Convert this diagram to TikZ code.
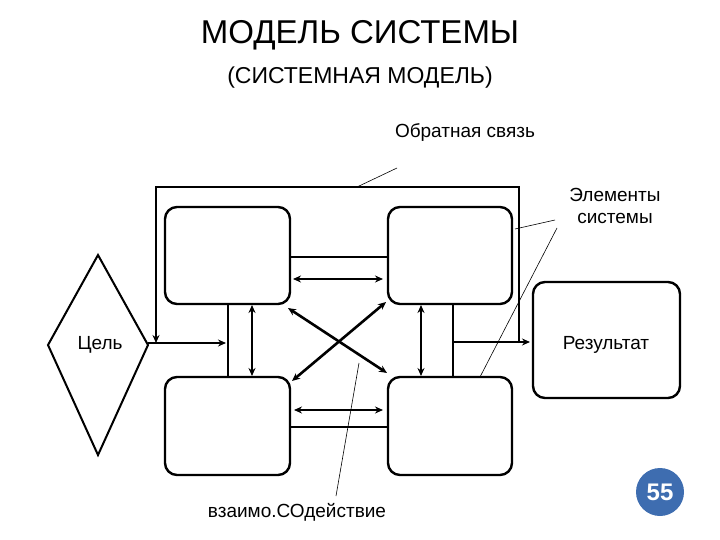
\documentclass[tikz,border=0pt]{standalone}
\usepackage{fontspec}
\setmainfont{Liberation Sans}
\usetikzlibrary{arrows.meta}
\begin{document}
\begin{tikzpicture}[x=1pt,y=-1pt,
  elem/.style={draw,line width=2.4pt,rounded corners=12pt},
  conn/.style={line width=2pt},
  arr/.style={line width=2.6pt,-{Stealth[length=8pt,width=7pt]}},
  darr/.style={line width=2.6pt,{Stealth[length=8pt,width=7pt]}-{Stealth[length=8pt,width=7pt]}},
  ptr/.style={line width=0.6pt},
  lbl/.style={font=\fontsize{19}{22}\selectfont}]
\useasboundingbox (0,0) rectangle (720,540);
\node[font=\fontsize{33}{36}\selectfont] (t1) at (360,35) {МОДЕЛЬ СИСТЕМЫ};
\node[font=\fontsize{23}{26}\selectfont] (t2) at (360,78) {(СИСТЕМНАЯ МОДЕЛЬ)};
% elements
\draw[elem] (165,207) rectangle (290,304);
\draw[elem] (388,207) rectangle (512,304);
\draw[elem] (165,377) rectangle (290,475);
\draw[elem] (388,377) rectangle (512,475);
\draw[elem] (533,282) rectangle (680,398);
\node[lbl] (res) at (606,345) {Результат};
% goal diamond
\draw[line width=2pt] (98,255) -- (148,345) -- (98,455) -- (48,345) -- cycle;
\node[lbl] (goal) at (100,345) {Цель};
% connectors
\draw[conn] (290,257) -- (388,257);
\draw[conn] (290,427) -- (388,427);
\draw[conn] (228,304) -- (228,377);
\draw[conn] (453,304) -- (453,377);
\draw[arr] (148,343) -- (226,343);
\draw[arr] (453,342) -- (530,342);
\draw[arr] (519,343) -- (519,187) -- (156,187) -- (156,343);
\draw[darr] (293,279) -- (383,279);
\draw[darr] (294,410) -- (383,410);
\draw[darr] (252,305) -- (252,376);
\draw[darr] (421,305) -- (421,376);
\draw[darr] (288,308) -- (387,373);
\draw[darr] (386,302) -- (292,381);
% pointer labels
\node[lbl] (fb) at (465,133) {Обратная связь};
\node[lbl,align=center] (el) at (615,206) {Элементы\\системы};
\node[lbl] (vz) at (297,512) {взаимо.СОдействие};
\draw[ptr] (397,168) -- (357,187);
\draw[ptr] (555,220) -- (515,229);
\draw[ptr] (557,228) -- (480,377);
\draw[ptr] (336,496) -- (359,363);
% badge
\fill[fill={rgb,255:red,62;green,109;blue,176}] (660,492) circle (24);
\node[text=white,font=\bfseries\fontsize{24}{26}\selectfont] (badge) at (660,492) {55};
\end{tikzpicture}
\end{document}
